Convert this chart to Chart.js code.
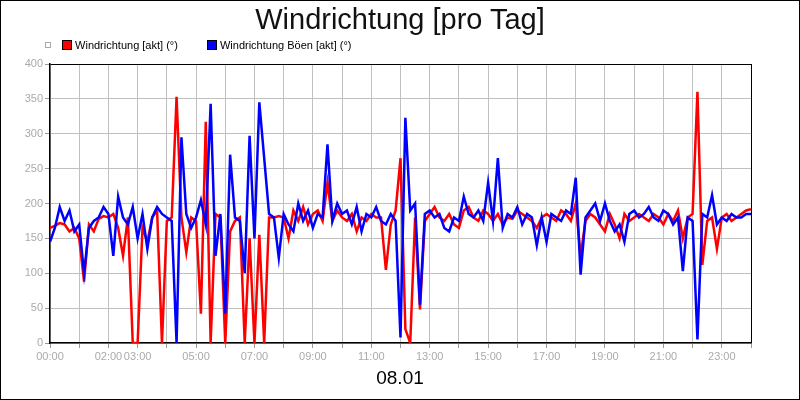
<!DOCTYPE html>
<html>
<head>
<meta charset="utf-8">
<script src="https://cdn.jsdelivr.net/npm/chart.js@4/dist/chart.umd.min.js"></script>
<style>
  body { margin: 0; background: #fff; }
  #wrap { position: relative; width: 800px; height: 400px; box-sizing: border-box; border: 1px solid #000; font-family: Arial, "Liberation Sans", sans-serif; }
  canvas { position: absolute; left: 0; top: 0; }
  #title { position: absolute; top: 2px; width: 100%; text-align: center; font-size: 29px; color: #111; }
  #legend { position: absolute; left: 44px; top: 37px; font-size: 11px; color: #000; }
  #legend span { display: inline-block; vertical-align: middle; }
  .box { width: 8px; height: 8px; border: 1px solid #000; margin-right: 3px; }
  #date { position: absolute; top: 366px; width: 100%; text-align: center; font-size: 19px; color: #000; }
</style>
</head>
<body>
<div id="wrap">
  <canvas id="c" width="798" height="398"></canvas>
  <div id="title">Windrichtung [pro Tag]</div>
  <div id="legend">
    <span style="width:4px;height:4px;border:1px solid #aaa;margin-right:8px"></span>
    <span class="box" style="background:#f00"></span><span style="margin-right:26px">Windrichtung [akt] (°)</span>
    <span class="box" style="background:#00f"></span><span>Windrichtung Böen [akt] (°)</span>
  </div>
  <div id="date">08.01</div>
</div>
<script>
// values every 10 minutes, 00:00 .. 24:00
const windDir = [
  165,168,172,170,160,165,
  150,88,170,160,178,182,
  180,185,165,125,180,0,
  0,165,145,180,190,0,
  175,180,353,180,130,180,
  175,42,317,0,185,180,
  0,160,175,180,0,150,
  0,155,0,180,180,182,
  180,150,190,175,195,170,
  185,190,175,230,175,190,
  180,175,185,160,180,175,
  185,180,180,105,170,190,
  265,20,0,180,48,175,
  185,195,180,175,185,170,
  165,190,195,180,175,190,
  185,175,185,170,180,178,
  190,185,180,175,165,180,
  185,180,175,190,185,175,
  200,125,175,185,180,170,
  160,185,170,150,185,175,
  180,185,180,175,185,180,
  170,185,175,190,150,180,
  185,360,112,175,180,135,
  180,185,175,180,185,190,
  192
];
const gustDir = [
  145,165,195,175,190,160,
  170,100,165,175,180,195,
  185,125,210,180,170,195,
  150,185,135,180,195,185,
  180,175,0,295,185,165,
  180,205,170,343,125,185,
  42,270,180,175,100,297,
  150,345,265,185,180,122,
  185,170,160,200,175,190,
  165,185,180,285,175,200,
  185,190,170,195,160,185,
  180,195,175,170,185,175,
  8,323,190,200,55,185,
  190,180,185,165,160,180,
  175,210,185,180,190,175,
  230,175,265,165,185,180,
  195,170,185,180,140,180,
  145,185,180,175,190,185,
  237,98,180,190,200,175,
  200,175,160,170,145,185,
  190,180,185,195,180,175,
  190,185,170,180,103,180,
  175,5,185,180,212,170,
  180,175,185,180,180,185,
  185
];
const hourLabels = ['00:00','02:00','03:00','05:00','07:00','09:00','11:00','13:00','15:00','17:00','19:00','21:00','23:00'];

const toPoints = arr => arr.map((v, i) => ({ x: i / 6, y: v }));
const pad = h => String(h).padStart(2, '0') + ':00';

new Chart(document.getElementById('c'), {
  type: 'line',
  data: {
    datasets: [
      { label: 'Windrichtung Böen [akt] (°)', data: toPoints(gustDir), borderColor: '#0000ff', borderWidth: 2.5, pointRadius: 0, tension: 0 },
      { label: 'Windrichtung [akt] (°)', data: toPoints(windDir), borderColor: '#ff0000', borderWidth: 2.5, pointRadius: 0, tension: 0 }
    ]
  },
  options: {
    responsive: false,
    animation: false,
    layout: { padding: { top: 63, right: 48, left: 0, bottom: 0 } },
    plugins: { legend: { display: false }, tooltip: { enabled: false } },
    scales: {
      x: {
        type: 'linear', min: 0, max: 24,
        afterFit: s => { s.height = 56; },
        afterBuildTicks: s => { s.ticks = Array.from({ length: 25 }, (_, h) => ({ value: h })); },
        grid: { color: c => c.tick && c.tick.value === 24 ? '#000' : '#c0c0c0', tickLength: 5, tickColor: '#999' },
        border: { color: '#000', width: 1.5 },
        ticks: {
          autoSkip: false, maxRotation: 0, color: '#aaa', font: { size: 11, family: 'Arial' }, padding: 2,
          callback: v => hourLabels.includes(pad(v)) ? pad(v) : ''
        }
      },
      y: {
        min: 0, max: 400,
        afterFit: s => { s.width = 49; },
        grid: { color: c => c.tick && c.tick.value === 400 ? '#000' : '#c0c0c0', tickLength: 5, tickColor: '#999' },
        border: { color: '#000', width: 1.5 },
        ticks: { stepSize: 50, color: '#aaa', font: { size: 11, family: 'Arial' }, padding: 2 }
      }
    }
  }
});
</script>
</body>
</html>
